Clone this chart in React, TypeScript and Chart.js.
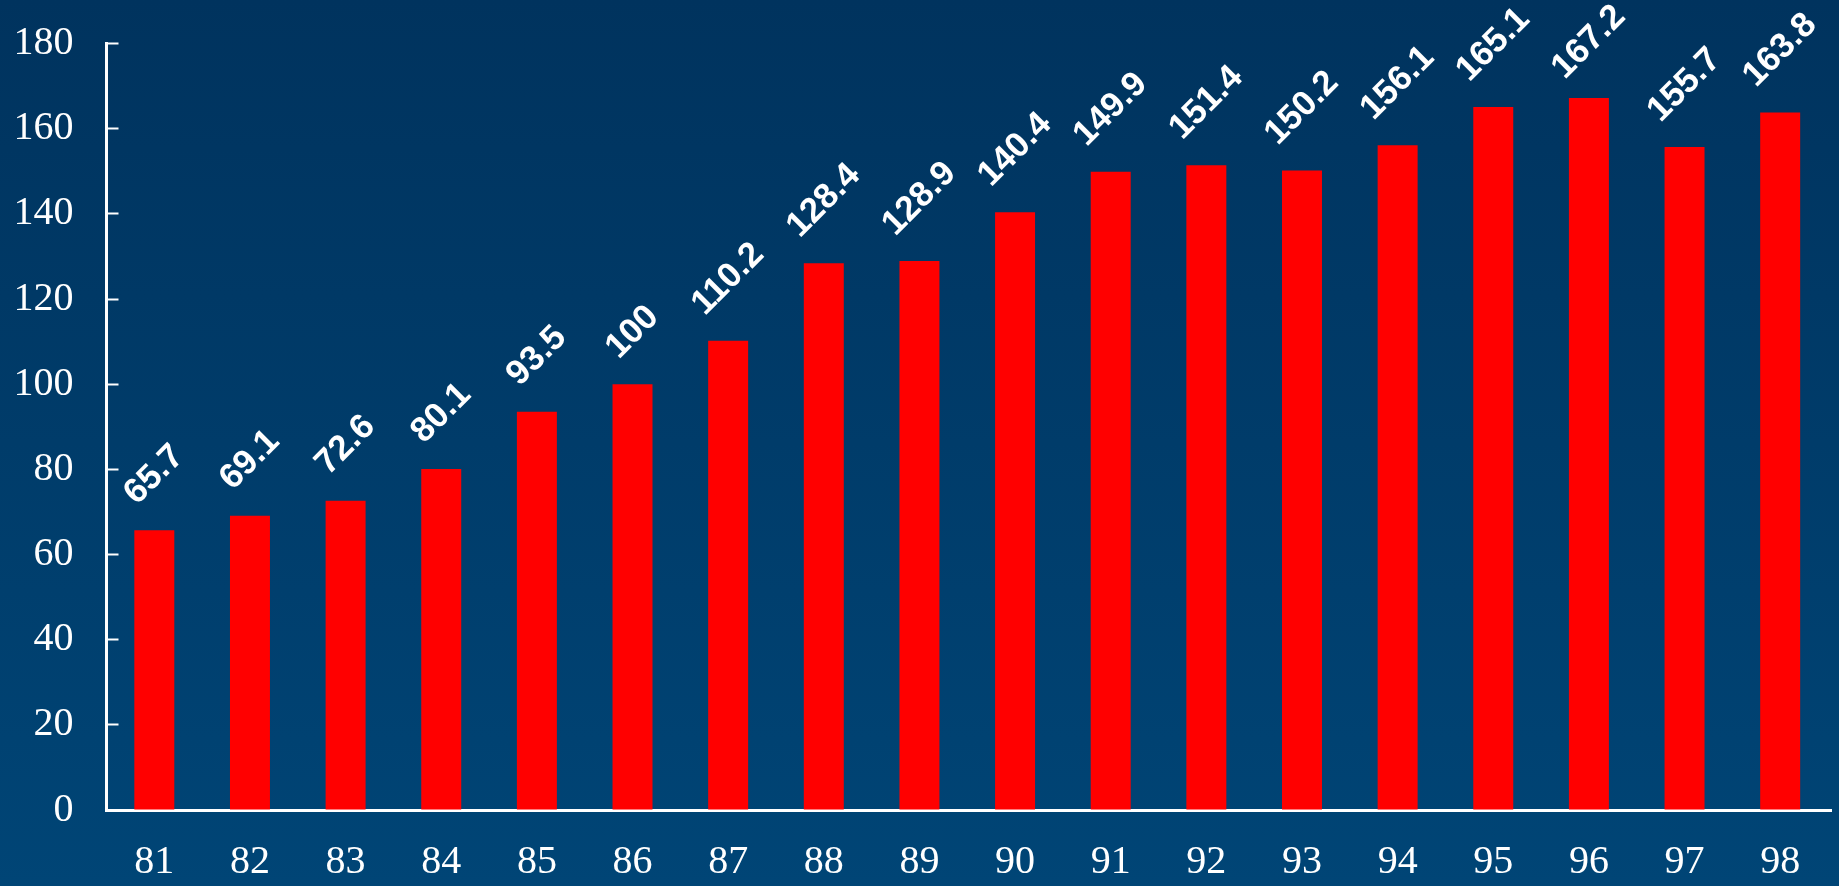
import React, { useEffect, useRef } from "react";
import { Chart, registerables } from "chart.js";

Chart.register(...registerables);

const categories = ["81", "82", "83", "84", "85", "86", "87", "88", "89", "90", "91", "92", "93", "94", "95", "96", "97", "98"];
const values = [65.7, 69.1, 72.6, 80.1, 93.5, 100, 110.2, 128.4, 128.9, 140.4, 149.9, 151.4, 150.2, 156.1, 165.1, 167.2, 155.7, 163.8];
const yMin = 0;
const yMax = 180;
const yStep = 20;

const labelPlugin = {
  id: "rotLabels",
  afterDatasetsDraw(chart: any) {
    const ctx = chart.ctx;
    const meta = chart.getDatasetMeta(0);
    ctx.save();
    ctx.font = "bold 35px 'Liberation Sans', Arial, sans-serif";
    ctx.fillStyle = "#ffffff";
    ctx.textAlign = "center";
    ctx.textBaseline = "middle";
    meta.data.forEach((bar: any, i: number) => {
      const text = String(values[i]);
      const m = ctx.measureText(text);
      const w = (m.actualBoundingBoxLeft + m.actualBoundingBoxRight) || m.width;
      const h = m.actualBoundingBoxAscent || 25;
      const H = (w + h) / Math.SQRT2;
      let cy = bar.y - 27 - H / 2;
      if (cy - H / 2 < 7) cy = 7 + H / 2;
      ctx.save();
      ctx.translate(bar.x, cy);
      ctx.rotate(-Math.PI / 4);
      ctx.fillText(text, 0, 0);
      ctx.restore();
    });
    ctx.restore();
  },
};

export default function App() {
  const ref = useRef<HTMLCanvasElement | null>(null);
  useEffect(() => {
    if (!ref.current) return;
    const chart = new Chart(ref.current, {
      type: "bar",
      data: {
        labels: categories,
        datasets: [
          {
            data: values,
            backgroundColor: "#ff0000",
            borderWidth: 0,
            barPercentage: 0.418,
            categoryPercentage: 1,
          },
        ],
      },
      options: {
        animation: false,
        responsive: true,
        maintainAspectRatio: false,
        layout: { padding: { top: 43.5, right: 11, left: 0, bottom: 0 } },
        plugins: { legend: { display: false }, tooltip: { enabled: false } },
        scales: {
          x: {
            offset: true,
            grid: { display: false, drawTicks: false, lineWidth: 8 },
            border: { display: true, color: "#ffffff", width: 3 },
            ticks: {
              color: "#ffffff",
              font: { family: "'Liberation Serif', 'Times New Roman', serif", size: 40 },
              padding: 28,
              maxRotation: 0,
              autoSkip: false,
            },
            afterFit: (s: any) => {
              s.height = 76;
              s.paddingLeft = 0;
              s.paddingRight = 0;
            },
          },
          y: {
            min: yMin,
            max: yMax,
            grid: {
              drawOnChartArea: false,
              drawTicks: true,
              tickLength: -12,
              tickColor: "#ffffff",
              tickWidth: 2,
            },
            border: { display: true, color: "#ffffff", width: 3 },
            ticks: {
              stepSize: yStep,
              color: "#ffffff",
              font: { family: "'Liberation Serif', 'Times New Roman', serif", size: 40 },
              padding: 45,
            },
            afterFit: (s: any) => {
              s.width = 106.5;
              s.paddingTop = 0;
              s.paddingBottom = 0;
            },
          },
        },
      },
      plugins: [labelPlugin],
    });
    return () => chart.destroy();
  }, []);
  return (
    <div
      style={{
        position: "fixed",
        left: 0,
        top: 0,
        width: "100vw",
        height: "100vh",
        background: "linear-gradient(to bottom, #00335e, #004576)",
      }}
    >
      <canvas ref={ref} />
    </div>
  );
}
